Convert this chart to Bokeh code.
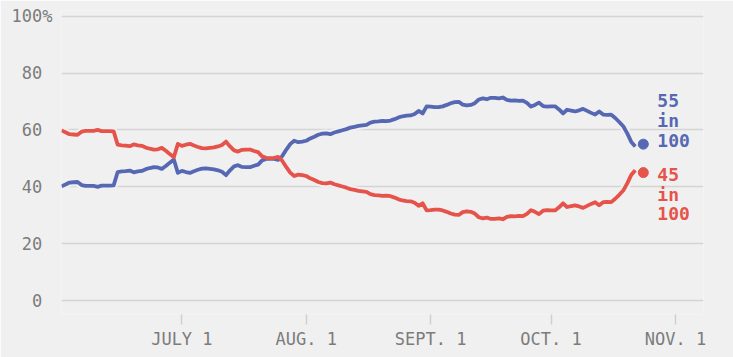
import pandas as pd
from bokeh.plotting import figure
from bokeh.models import Range1d, FixedTicker
from bokeh.core.properties import value
from bokeh.embed import file_html
from bokeh.resources import INLINE

# ---- data ----
start_date = "2016-06-01"
blue_values = [
    40.2, 40.8, 41.5, 41.6, 41.7, 40.6, 40.3, 40.3, 40.3, 40.0,
    40.4, 40.4, 40.4, 40.5, 45.2, 45.4, 45.5, 45.7, 45.1, 45.4,
    45.6, 46.2, 46.6, 46.9, 46.8, 46.3, 47.3, 48.5, 49.6, 44.9,
    45.6, 45.2, 44.9, 45.5, 46.0, 46.4, 46.5, 46.3, 46.1, 45.8,
    45.3, 44.1, 45.8, 47.2, 47.6, 47.0, 46.9, 46.9, 47.4, 47.8,
    49.3, 49.8, 49.9, 49.8, 49.5, 50.8, 53.0, 55.0, 56.2, 55.7,
    55.9, 56.2, 57.0, 57.6, 58.3, 58.7, 58.8, 58.5, 59.1, 59.5,
    59.9, 60.3, 60.8, 61.1, 61.4, 61.6, 61.8, 62.6, 62.9, 63.0,
    63.2, 63.1, 63.3, 63.8, 64.4, 64.8, 65.0, 65.1, 65.6, 66.7,
    65.8, 68.3, 68.2, 68.0, 68.0, 68.3, 68.8, 69.4, 69.8, 69.9,
    68.9, 68.6, 68.8, 69.4, 70.7, 71.1, 70.8, 71.3, 71.3, 71.1,
    71.4, 70.6, 70.3, 70.4, 70.2, 70.3, 69.5, 68.2, 68.8, 69.6,
    68.4, 68.2, 68.3, 68.3, 67.2, 65.8, 67.1, 66.8, 66.5, 66.9,
    67.4, 66.7, 66.0, 65.4, 66.5, 65.4, 65.3, 65.4, 64.2, 62.8,
    61.3, 58.8, 55.8, 54.2,
]
red_values = [
    59.8, 59.2, 58.5, 58.4, 58.3, 59.4, 59.7, 59.7, 59.7, 60.0,
    59.6, 59.6, 59.6, 59.5, 54.8, 54.6, 54.5, 54.3, 54.9, 54.6,
    54.4, 53.8, 53.4, 53.1, 53.2, 53.7, 52.7, 51.5, 50.4, 55.1,
    54.4, 54.8, 55.1, 54.5, 54.0, 53.6, 53.5, 53.7, 53.9, 54.2,
    54.7, 55.9, 54.2, 52.8, 52.4, 53.0, 53.1, 53.1, 52.6, 52.2,
    50.7, 50.2, 50.1, 50.2, 50.5, 49.2, 47.0, 45.0, 43.8, 44.3,
    44.1, 43.8, 43.0, 42.4, 41.7, 41.3, 41.2, 41.5, 40.9, 40.5,
    40.1, 39.7, 39.2, 38.9, 38.6, 38.4, 38.2, 37.4, 37.1, 37.0,
    36.8, 36.9, 36.7, 36.2, 35.6, 35.2, 35.0, 34.9, 34.4, 33.3,
    34.2, 31.7, 31.8, 32.0, 32.0, 31.7, 31.2, 30.6, 30.2, 30.1,
    31.1, 31.4, 31.2, 30.6, 29.3, 28.9, 29.2, 28.7, 28.7, 28.9,
    28.6, 29.4, 29.7, 29.6, 29.8, 29.7, 30.5, 31.8, 31.2, 30.4,
    31.6, 31.8, 31.7, 31.7, 32.8, 34.2, 32.9, 33.2, 33.5, 33.1,
    32.6, 33.3, 34.0, 34.6, 33.5, 34.6, 34.7, 34.6, 35.8, 37.2,
    38.7, 41.2, 44.2, 45.8,
]
end_date = "2016-10-24"
blue_end = 55
red_end = 45
x_start = "2016-06-01"
x_end = "2016-11-08"
tick_dates = ["2016-07-01", "2016-08-01", "2016-09-01", "2016-10-01", "2016-11-01"]
tick_labels = ["JULY 1", "AUG. 1", "SEPT. 1", "OCT. 1", "NOV. 1"]
y_ticks = [0, 20, 40, 60, 80, 100]
y_labels = ["0\u00a0", "20\u00a0", "40\u00a0", "60\u00a0", "80\u00a0", "100%"]

# ---- style ----
BG = "#f0f0f0"
BLUE = "#5668b3"
RED = "#e5534b"
GRID = "#d4d4d4"
TXT = "#7c7c7c"
FONT = "DejaVu Sans Mono"

dates = pd.date_range(start_date, periods=len(blue_values), freq="D")
end_dt = pd.Timestamp(end_date)

def ms(d):
    return int(pd.Timestamp(d).value // 10**6)

p = figure(
    width=733, height=357,
    x_axis_type="datetime",
    x_range=Range1d(pd.Timestamp(x_start), pd.Timestamp(x_end)),
    y_range=Range1d(-4.9, 102),
    output_backend="svg", toolbar_location=None,
    min_border_left=61, min_border_right=30, min_border_top=10, min_border_bottom=43,
)
p.background_fill_color = BG
p.border_fill_color = BG
p.outline_line_color = None

# grid
p.xgrid.grid_line_color = None
p.ygrid.grid_line_color = GRID
p.ygrid.grid_line_width = 1.3

# y axis
p.yaxis.ticker = FixedTicker(ticks=y_ticks)
p.yaxis.major_label_overrides = {t: l for t, l in zip(y_ticks, y_labels)}
p.yaxis.axis_line_color = None
p.yaxis.major_tick_line_color = None
p.yaxis.minor_tick_line_color = None
p.yaxis.major_tick_out = 0
p.yaxis.major_tick_in = 0
p.yaxis.major_label_standoff = 9
p.yaxis.major_label_text_font = FONT
p.yaxis.major_label_text_font_size = "17px"
p.yaxis.major_label_text_color = TXT

# x axis
xt = [ms(d) for d in tick_dates]
p.xaxis.ticker = FixedTicker(ticks=xt)
p.xaxis.major_label_overrides = {t: l for t, l in zip(xt, tick_labels)}
p.xaxis.axis_line_color = None
p.xaxis.minor_tick_line_color = None
p.xaxis.major_tick_line_color = "#cfcfcf"
p.xaxis.major_tick_line_width = 1.5
p.xaxis.major_tick_out = 10
p.xaxis.major_tick_in = 0
p.xaxis.major_label_standoff = 4
p.xaxis.major_label_text_font = FONT
p.xaxis.major_label_text_font_size = "17px"
p.xaxis.major_label_text_color = TXT

# lines with halo
p.line(dates, blue_values, line_color=BG, line_width=8, line_join="round")
p.line(dates, red_values, line_color=BG, line_width=8, line_join="round")
p.line(dates, blue_values, line_color=BLUE, line_width=3.8, line_join="round")
p.line(dates, red_values, line_color=RED, line_width=3.8, line_join="round")

# end dots
p.scatter([end_dt], [blue_end], size=10, color=BLUE)
p.scatter([end_dt], [red_end], size=10, color=RED)

# end labels
p.text([end_dt], [blue_end], text=[f"{blue_end}\nin\n100"], x_offset=14, y_offset=7,
       text_baseline="bottom", text_align="left", text_color=BLUE,
       text_font=value(FONT), text_font_size="18px", text_font_style="bold",
       text_line_height=0.95)
p.text([end_dt], [red_end], text=[f"{red_end}\nin\n100"], x_offset=14, y_offset=-9,
       text_baseline="top", text_align="left", text_color=RED,
       text_font=value(FONT), text_font_size="18px", text_font_style="bold",
       text_line_height=0.95)

open("out.html", "w").write(file_html(p, INLINE))
